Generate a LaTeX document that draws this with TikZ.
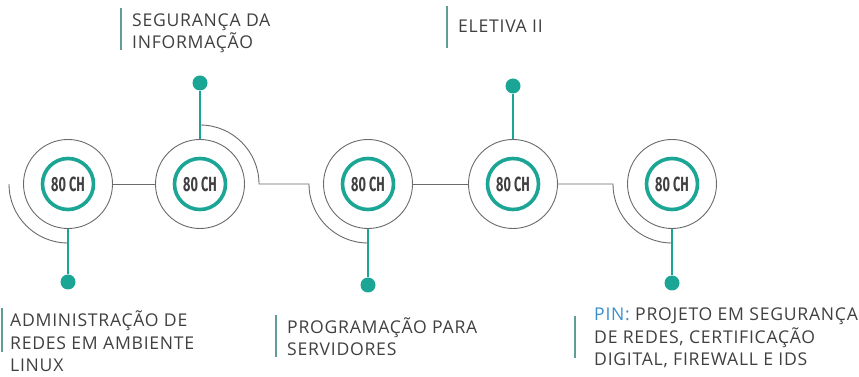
\documentclass[tikz,border=0pt]{standalone}
\usepackage{fontspec}
\setmainfont{Open Sans}[LetterSpace=4.2]
\newfontfamily\chfont[FakeStretch=0.62]{Fira Sans}
\usetikzlibrary{positioning}
\definecolor{tealc}{HTML}{1AA594}
\definecolor{ringgray}{HTML}{6A6A6A}
\definecolor{bargray}{HTML}{5E9E97}
\definecolor{txtgray}{HTML}{404040}
\definecolor{pinblue}{HTML}{3A8FD0}
\tikzset{ring/.style={shape=circle, draw=ringgray, line width=.9pt,
    minimum size=89pt, inner sep=0pt}}
\tikzset{core/.style={shape=circle, draw=tealc, line width=3.6pt,
    minimum size=51pt, inner sep=0pt, text=txtgray,
    font=\chfont\bfseries\fontsize{20.5}{20.5}\selectfont}}
\tikzset{dot/.style={shape=circle, fill=tealc, minimum size=15pt, inner sep=0pt}}
\tikzset{stem/.style={draw=tealc, line width=1.2pt}}
\tikzset{wire/.style={draw=ringgray, line width=.9pt}}
\tikzset{bar/.style={draw=bargray, line width=1.5pt}}
\tikzset{caption/.style={anchor=base west, inner sep=0pt, align=left,
    text=txtgray, font=\fontsize{17.6}{22.5}\selectfont}}

\begin{document}
\begin{tikzpicture}[x=1pt, y=1pt]
    \useasboundingbox (0,0) rectangle (859,377);

    % rings with the hours
    \foreach \n/\x in {1/68,2/200,3/368,4/513,5/672} {
      \node[ring] (r\n) at (\x,193) {};
      \node[core] (c\n) at (r\n) {80 CH};
    }

    % dots
    \node[dot] (d1) at (68,95) {};
    \node[dot] (d2) at (200,294) {};
    \node[dot] (d3) at (368,92) {};
    \node[dot] (d4) at (513,291) {};
    \node[dot] (d5) at (672,94) {};

    \draw[stem] (r1.south) -- (d1);
    \draw[stem] (r2.north) -- (d2);
    \draw[stem] (r3.south) -- (d3);
    \draw[stem] (r4.north) -- (d4);
    \draw[stem] (r5.south) -- (d5);

    % wires between the rings
    \draw[wire] ([xshift=-59pt]r1.center) arc[start angle=180, end angle=270, radius=59pt];
    \draw[wire] (r1) -- (r2);
    \draw[wire] ([yshift=59pt]r2.center) arc[start angle=90, end angle=0, radius=59pt]
      -- ([xshift=-59pt]r3.center) arc[start angle=180, end angle=270, radius=59pt];
    \draw[wire] (r3) -- (r4);
    \draw[wire] (r4) -- ([xshift=-59pt]r5.center)
      arc[start angle=180, end angle=270, radius=59pt];

    % captions (anchored at the last baseline)
    \node[caption] (l1) at (10,5) {ADMINISTRAÇÃO DE\\REDES EM AMBIENTE\\LINUX};
    \node[caption] (l2) at (287,21) {PROGRAMAÇÃO PARA\\SERVIDORES};
    \node[caption] (l3) at (132,328) {SEGURANÇA DA\\INFORMAÇÃO};
    \node[caption] (l4) at (458,344) {ELETIVA II};
    \node[caption] (l5) at (594,11) {\textcolor{pinblue}{PIN:} PROJETO EM SEGURANÇA\\DE REDES, CERTIFICAÇÃO\\DIGITAL, FIREWALL E IDS};

    \draw[bar] (2,69) -- (2,25);
    \draw[bar] (276,62) -- (276,20);
    \draw[bar] (121,369) -- (121,327);
    \draw[bar] (447,371) -- (447,329);
    \draw[bar] (575,61) -- (575,19);
  \end{tikzpicture}
\end{document}
